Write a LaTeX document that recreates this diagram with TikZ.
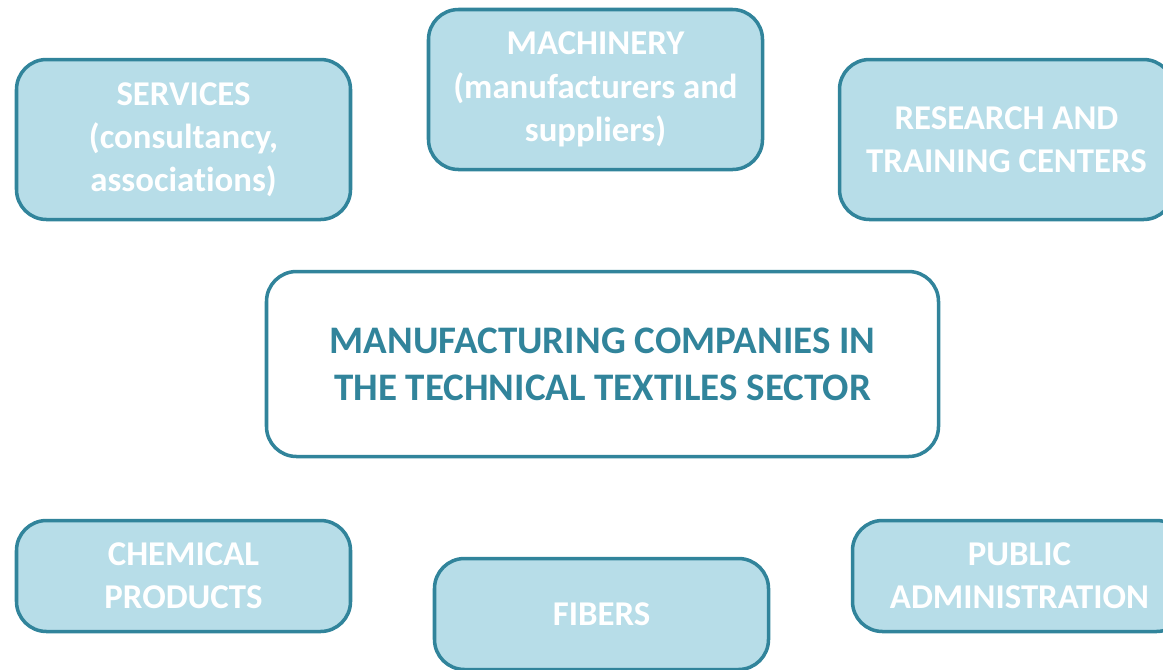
\documentclass[tikz,border=0pt]{standalone}
\usepackage{fontspec}
\setmainfont[Ligatures=NoCommon]{Carlito}
\usepackage{tikz}
\usetikzlibrary{positioning}

\definecolor{boxfill}{HTML}{B7DDE8}
\definecolor{boxline}{HTML}{31849B}

\tikzset{
    actor/.style={draw=boxline, fill=boxfill, line width=1pt, rounded corners=0.3cm,
        minimum width=3.34cm, align=center, text=white,
        font=\fontsize{9.9}{12.3}\selectfont\bfseries},
    core/.style={draw=boxline, fill=white, line width=1pt, rounded corners=0.3cm,
        minimum width=6.72cm, minimum height=1.85cm, align=center, text=boxline,
        font=\fontsize{11.1}{13.3}\selectfont\bfseries}
}

\begin{document}
\begin{tikzpicture}
        \clip (0,0) rectangle (11.63,-6.69);
        \useasboundingbox (0,0) rectangle (11.63,-6.69);

        % centre
        \node[core] (firms) at (6.025,-3.64) {MANUFACTURING COMPANIES IN\\THE TECHNICAL TEXTILES SECTOR};

        % upper row
        \node[actor, minimum height=1.6cm] (services) at (1.835,-1.395) {SERVICES\\(consultancy,\\associations)};
        \node[actor, minimum height=1.6cm] (machinery) at (5.955,-0.895) {MACHINERY\\(manufacturers and\\suppliers)};
        \node[actor, minimum height=1.6cm] (research) at (10.065,-1.395) {RESEARCH AND\\TRAINING CENTERS};

        % lower row
        \node[actor, minimum height=1.11cm] (chemical) at (1.835,-5.76) {CHEMICAL\\PRODUCTS};
        \node[actor, minimum height=1.11cm] (fibers) at (6.015,-6.14) {FIBERS};
        \node[actor, minimum height=1.11cm] (public) at (10.195,-5.76) {PUBLIC\\ADMINISTRATION};
    \end{tikzpicture}
\end{document}
